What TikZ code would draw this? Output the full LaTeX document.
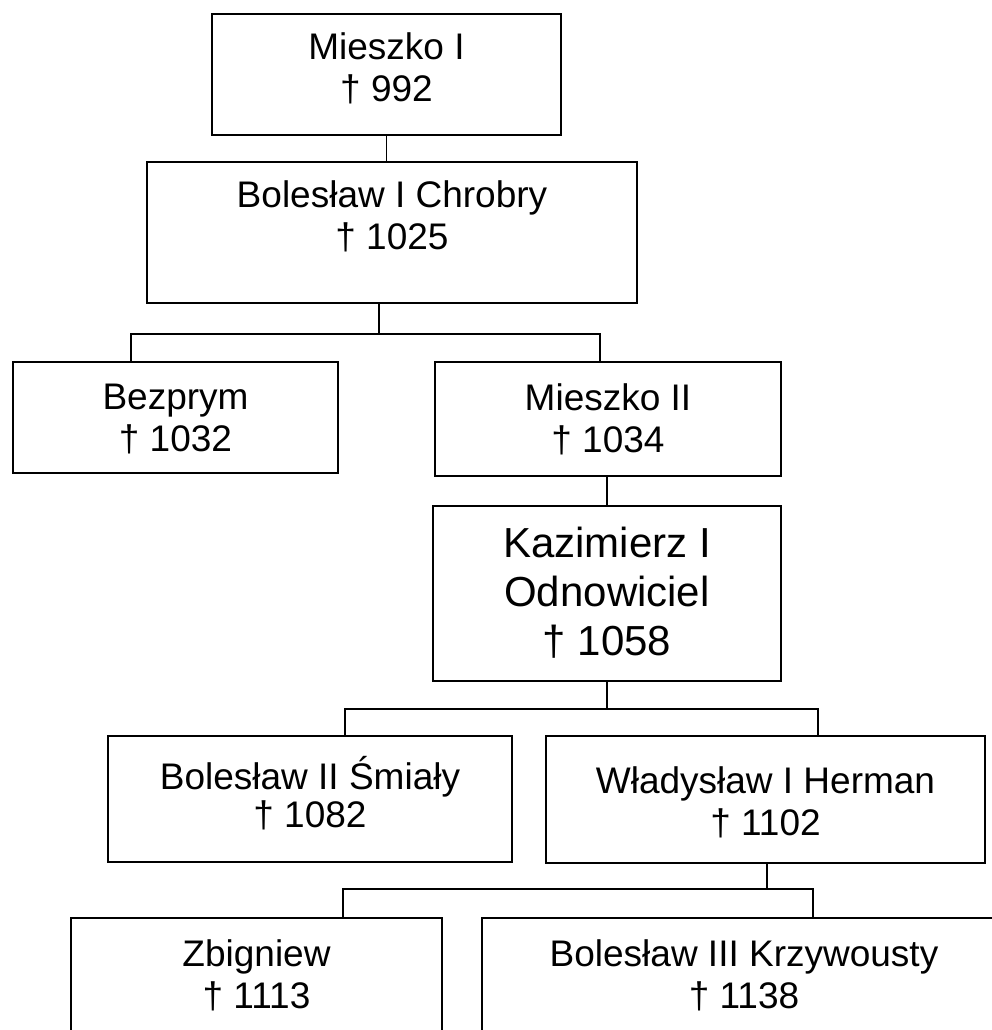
\documentclass[tikz,border=0pt]{standalone}
\usepackage{fontspec}
\setmainfont{Liberation Sans}
\tikzset{
    family tree/.style={
            x=1pt,y=-1pt,
            personbox/.style={draw,line width=1.8pt,inner sep=0pt,outer sep=0pt},
            nametext/.style={align=center,anchor=base,inner sep=0pt,font=\fontsize{37}{42}\selectfont},
            link/.style={line width=1.5pt}
        }
    }

\begin{document}
\begin{tikzpicture}[family tree]
    \clip (0,0) rectangle (992,1030);
    \useasboundingbox (0,0) rectangle (992,1030);
    % boxes
    \node[personbox,minimum width=349pt,minimum height=121pt] (mieszkoI) at (386.5,74.5) {};
    \node[personbox,minimum width=490pt,minimum height=141pt] (chrobry) at (392,232.5) {};
    \node[personbox,minimum width=325pt,minimum height=111pt] (bezprym) at (175.5,417.5) {};
    \node[personbox,minimum width=346pt,minimum height=114pt] (mieszkoII) at (608,419) {};
    \node[personbox,minimum width=348pt,minimum height=175pt] (kazimierz) at (607,593.5) {};
    \node[personbox,minimum width=404pt,minimum height=126pt] (smialy) at (310,799) {};
    \node[personbox,minimum width=439pt,minimum height=127pt] (herman) at (765.5,799.5) {};
    \node[personbox,minimum width=371pt,minimum height=142pt] (zbigniew) at (256.5,989) {};
    \node[personbox,minimum width=524pt,minimum height=142pt] (krzywousty) at (744,989) {};
    % names (anchored on the last line)
    \node[nametext] (mieszkoIt) at (386.5,102) {Mieszko I\\† 992};
    \node[nametext] (chrobryt) at (392,249) {Bolesław I Chrobry\\† 1025};
    \node[nametext] (bezprymt) at (175.5,451) {Bezprym\\† 1032};
    \node[nametext] (mieszkoIIt) at (608,452) {Mieszko II\\† 1034};
    \node[nametext,font=\fontsize{42}{49}\selectfont] (kazimierzt) at (607,655) {Kazimierz I\\Odnowiciel\\† 1058};
    \node[nametext,font=\fontsize{37}{38}\selectfont] (smialyt) at (310,827) {Bolesław II Śmiały\\† 1082};
    \node[nametext] (hermant) at (765.5,835) {Władysław I Herman\\† 1102};
    \node[nametext] (zbigniewt) at (256.5,1008) {Zbigniew\\† 1113};
    \node[nametext] (krzywoustyt) at (744,1008) {Bolesław III Krzywousty\\† 1138};
    % forks
    \coordinate (f1) at (379,334);
    \coordinate (f1l) at (131,334);
    \coordinate (f1r) at (600,334);
    \coordinate (f2) at (607,709);
    \coordinate (f2l) at (345,709);
    \coordinate (f2r) at (818,709);
    \coordinate (f3) at (767,889);
    \coordinate (f3l) at (343,889);
    \coordinate (f3r) at (813,889);
    % connectors
    \draw[link] (mieszkoI.south) -- (mieszkoI.south |- chrobry.north);
    \draw[link] (f1 |- chrobry.south) -- (f1);
    \draw[link] (f1l |- bezprym.north) -- (f1l) -- (f1r) -- (f1r |- mieszkoII.north);
    \draw[link] (mieszkoII.south -| f2) -- (f2 |- kazimierz.north);
    \draw[link] (f2 |- kazimierz.south) -- (f2);
    \draw[link] (f2l |- smialy.north) -- (f2l) -- (f2r) -- (f2r |- herman.north);
    \draw[link] (f3 |- herman.south) -- (f3);
    \draw[link] (f3l |- zbigniew.north) -- (f3l) -- (f3r) -- (f3r |- krzywousty.north);
\end{tikzpicture}
\end{document}
